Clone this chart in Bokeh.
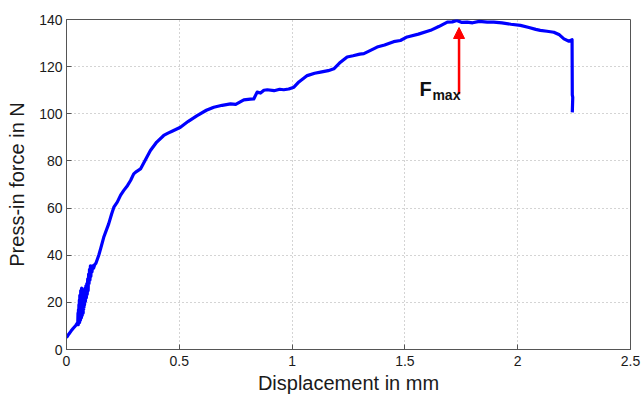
from bokeh.plotting import figure
from bokeh.models import Arrow, NormalHead, Label, FixedTicker
from bokeh.embed import file_html
from bokeh.resources import INLINE

# ---- data ----
displacement_mm = [
    0.0, 0.01, 0.02, 0.03, 0.041, 0.05,
    0.051, 0.052, 0.053, 0.054, 0.055, 0.056, 0.057, 0.058, 0.059, 0.060,
    0.061, 0.062, 0.063, 0.064, 0.065, 0.066, 0.067, 0.068, 0.069, 0.070,
    0.071, 0.072, 0.073, 0.074, 0.075, 0.076, 0.077, 0.078, 0.079, 0.080,
    0.082, 0.084, 0.086, 0.088, 0.090, 0.092, 0.094, 0.096, 0.098, 0.100,
    0.102, 0.104, 0.106, 0.108, 0.110, 0.113, 0.116, 0.120, 0.125, 0.13,
    0.143, 0.152, 0.165, 0.187,
    0.20, 0.21, 0.225, 0.24, 0.254, 0.27, 0.284, 0.298, 0.31, 0.328,
    0.35, 0.372, 0.40, 0.431, 0.45, 0.468, 0.505, 0.54, 0.579, 0.62,
    0.653, 0.69, 0.727, 0.75, 0.786, 0.815, 0.830, 0.845, 0.86, 0.875,
    0.89, 0.92, 0.945, 0.963, 0.985, 1.008, 1.03, 1.067, 1.10, 1.126,
    1.16, 1.185, 1.21, 1.244, 1.27, 1.30, 1.318, 1.35, 1.377, 1.41,
    1.45, 1.48, 1.51, 1.56, 1.614, 1.65, 1.688, 1.71, 1.73, 1.75,
    1.776, 1.80, 1.83, 1.865, 1.894, 1.93, 1.97, 2.012, 2.05, 2.08,
    2.10, 2.13, 2.16, 2.185, 2.205, 2.227, 2.241, 2.242, 2.244, 2.242,
]
force_N = [
    5.0, 6.5, 7.8, 9.0, 10.2, 11.5,
    15.5, 10.5, 17.0, 11.0, 19.0, 12.0, 21.0, 11.5, 23.0, 13.0,
    22.5, 12.5, 25.0, 14.0, 24.0, 13.5, 26.0, 15.0, 25.0, 14.5,
    25.5, 16.0, 24.5, 15.5, 25.0, 17.0, 24.0, 18.0, 25.5, 19.0,
    26.0, 20.5, 27.0, 22.0, 28.0, 23.5, 30.0, 25.0, 32.0, 28.0,
    34.0, 29.5, 35.5, 31.0, 35.0, 33.0, 35.5, 34.5, 36.0, 36.5,
    40.0, 43.0, 47.6, 53.3,
    57.5, 60.4, 62.5, 65.5, 67.5, 69.5, 71.7, 74.5, 75.5, 76.6,
    80.5, 84.4, 88.0, 90.8, 91.8, 92.6, 94.3, 96.8, 99.2, 101.5,
    102.8, 103.6, 104.2, 104.0, 105.9, 106.2, 106.3, 109.2, 108.8, 110.0,
    110.2, 109.8, 110.4, 110.2, 110.5, 111.3, 113.5, 116.2, 117.2, 117.7,
    118.3, 119.1, 121.5, 124.1, 124.6, 125.3, 125.5, 127.0, 128.3, 129.2,
    130.6, 131.1, 132.6, 133.8, 135.4, 137.0, 138.9, 139.0, 139.6, 138.8,
    138.9, 138.6, 139.2, 138.9, 138.9, 138.6, 138.0, 137.5, 136.6, 135.8,
    135.4, 135.0, 134.6, 133.5, 131.8, 130.8, 131.4, 108.0, 107.0, 100.6,
]
x_ticks = [0, 0.5, 1, 1.5, 2, 2.5]
x_tick_labels = ["0", "0.5", "1", "1.5", "2", "2.5"]
y_ticks = [0, 20, 40, 60, 80, 100, 120, 140]

fmax_x = 1.74
fmax_arrow_base = 108.3
fmax_arrow_tip = 136.6
fmax_label_x = 1.565
fmax_label_y = 110.6
fmax_sub_x = 1.622
fmax_sub_y = 108.1

FONT = "Liberation Sans"

p = figure(width=644, height=396, x_range=(0, 2.5), y_range=(0, 140),
           output_backend="svg", toolbar_location=None,
           min_border_left=66, min_border_right=14, min_border_top=19,
           min_border_bottom=47)

p.background_fill_color = "white"
p.border_fill_color = "white"
p.outline_line_color = "#555555"
p.outline_line_width = 1

p.line(displacement_mm, force_N, line_color="#0000ff", line_width=3.2,
       line_join="round")

p.add_layout(Arrow(end=NormalHead(size=11, fill_color="#ff0000", line_color="#ff0000"),
                   x_start=fmax_x, y_start=fmax_arrow_base,
                   x_end=fmax_x, y_end=fmax_arrow_tip,
                   line_color="#ff0000", line_width=2.5))
p.add_layout(Label(x=fmax_label_x, y=fmax_label_y, text="F", text_font=FONT,
                   text_font_size="20px", text_font_style="bold",
                   text_color="#111111", text_baseline="alphabetic"))
p.add_layout(Label(x=fmax_sub_x, y=fmax_sub_y, text="max", text_font=FONT,
                   text_font_size="14px", text_font_style="bold",
                   text_color="#111111", text_baseline="alphabetic"))

p.xaxis.ticker = FixedTicker(ticks=x_ticks)
p.yaxis.ticker = FixedTicker(ticks=y_ticks)
p.xaxis.major_label_overrides = {t: l for t, l in zip(x_ticks, x_tick_labels)}

for ax in (p.xaxis, p.yaxis):
    ax.axis_line_color = "#555555"
    ax.major_tick_line_color = "#555555"
    ax.major_tick_in = 5
    ax.major_tick_out = 0
    ax.minor_tick_line_color = None
    ax.major_label_text_font = FONT
    ax.major_label_text_font_size = "14px"
    ax.major_label_text_color = "#1a1a1a"
    ax.axis_label_text_font = FONT
    ax.axis_label_text_font_size = "20px"
    ax.axis_label_text_font_style = "normal"
    ax.axis_label_text_color = "#1a1a1a"

p.xaxis.axis_label = "Displacement in mm"
p.yaxis.axis_label = "Press-in force in N"
p.xaxis.major_label_standoff = 6
p.xaxis.axis_label_standoff = 3
p.yaxis.major_label_standoff = 4
p.yaxis.axis_label_standoff = 8

p.grid.grid_line_color = "#a8a8a8"
p.grid.grid_line_dash = "1 3"
p.grid.grid_line_width = 1

open("out.html", "w").write(file_html(p, INLINE))
